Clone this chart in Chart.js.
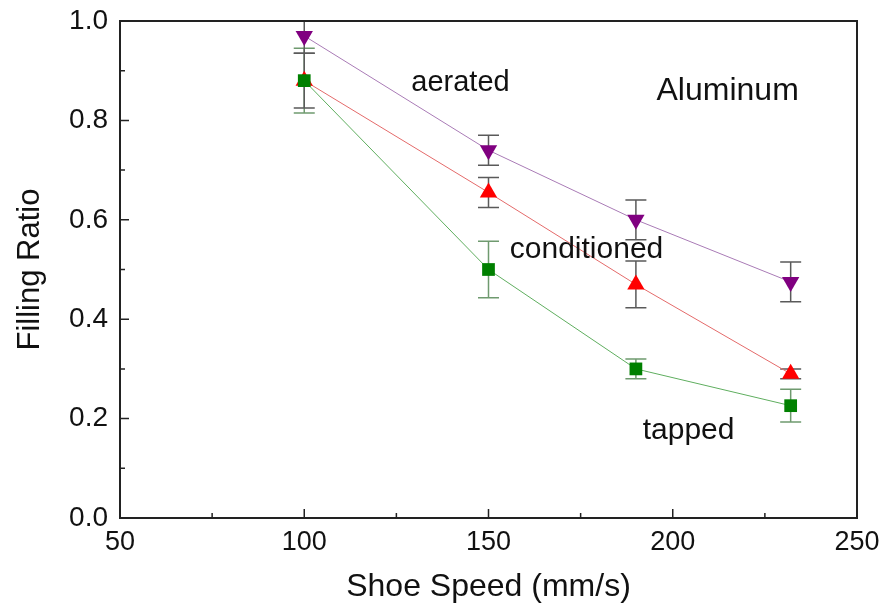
<!DOCTYPE html>
<html>
<head>
<meta charset="utf-8">
<script src="https://cdn.jsdelivr.net/npm/chart.js@4.4.1/dist/chart.umd.min.js"></script>
<style>
  html, body { margin: 0; padding: 0; background: #fff; }
  #wrap { width: 881px; height: 610px; }
</style>
</head>
<body>
<div id="wrap"><canvas id="chart" width="881" height="610"></canvas></div>
<script>
// shoe speed (mm/s)
const speeds = [100, 150, 190, 232];

// filling ratio per powder state, with error bar half-widths
const aerated = [0.97, 0.74, 0.60, 0.475];
const aeratedErr = [0.035, 0.03, 0.04, 0.04];
const conditioned = [0.88, 0.655, 0.47, 0.29];
const conditionedErr = [0.055, 0.03, 0.047, 0.01];
const tapped = [0.88, 0.50, 0.30, 0.226];
const tappedErr = [0.065, 0.057, 0.02, 0.033];

const xTicks = [50, 100, 150, 200, 250];
const yTicks = [0.0, 0.2, 0.4, 0.6, 0.8, 1.0];

// in-plot labels, baseline placed in data units
const notes = [
  { text: 'aerated', x: 142.4, y: 0.860, size: 29 },
  { text: 'Aluminum', x: 214.9, y: 0.842, size: 32 },
  { text: 'conditioned', x: 176.6, y: 0.523, size: 30 },
  { text: 'tapped', x: 204.3, y: 0.158, size: 30 }
];

const FONT = "'Liberation Sans', Arial, sans-serif";

const toPts = ys => speeds.map((x, i) => ({ x: x, y: ys[i] }));

const errorBars = {
  id: 'errorBars',
  beforeDatasetsDraw(chart) {
    const { ctx, chartArea, scales } = chart;
    const xs = scales.x, ys = scales.y;
    ctx.save();
    ctx.beginPath();
    ctx.rect(chartArea.left, chartArea.top, chartArea.right - chartArea.left, chartArea.bottom - chartArea.top);
    ctx.clip();
    ctx.lineWidth = 1.5;
    chart.data.datasets.forEach(ds => {
      ctx.strokeStyle = ds.errorColor;
      ds.data.forEach((p, i) => {
        const e = ds.errors[i];
        const px = xs.getPixelForValue(p.x);
        const top = ys.getPixelForValue(p.y + e);
        const bot = ys.getPixelForValue(p.y - e);
        ctx.beginPath();
        ctx.moveTo(px, top); ctx.lineTo(px, bot);
        ctx.moveTo(px - 10.5, top); ctx.lineTo(px + 10.5, top);
        ctx.moveTo(px - 10.5, bot); ctx.lineTo(px + 10.5, bot);
        ctx.stroke();
      });
    });
    ctx.restore();
  }
};

const frame = {
  id: 'frame',
  afterDraw(chart) {
    const { ctx, chartArea: a, scales } = chart;
    ctx.save();
    ctx.strokeStyle = '#222';
    ctx.lineWidth = 2;
    ctx.strokeRect(a.left, a.top, a.right - a.left, a.bottom - a.top);
    ctx.beginPath();
    // inward ticks, majors and minors
    for (let v = 50; v <= 250; v += 25) {
      const px = scales.x.getPixelForValue(v);
      const len = v % 50 === 0 ? 9 : 5;
      ctx.moveTo(px, a.bottom); ctx.lineTo(px, a.bottom - len);
    }
    for (let k = 0; k <= 10; k++) {
      const py = scales.y.getPixelForValue(k / 10);
      const len = k % 2 === 0 ? 9 : 5;
      ctx.moveTo(a.left, py); ctx.lineTo(a.left + len, py);
    }
    ctx.lineWidth = 1.5;
    ctx.stroke();

    ctx.fillStyle = '#111';
    ctx.textAlign = 'center';
    ctx.textBaseline = 'alphabetic';
    notes.forEach(n => {
      ctx.font = n.size + 'px ' + FONT;
      ctx.fillText(n.text, scales.x.getPixelForValue(n.x), scales.y.getPixelForValue(n.y));
    });
    ctx.restore();
  }
};

new Chart(document.getElementById('chart'), {
  type: 'scatter',
  data: {
    datasets: [
      {
        label: 'tapped', data: toPts(tapped), errors: tappedErr, errorColor: '#6f9a6f',
        showLine: true, borderColor: '#5fae5f', borderWidth: 1,
        pointStyle: 'rect', pointRadius: 9, pointBackgroundColor: '#008000', pointBorderColor: '#008000', pointBorderWidth: 0
      },
      {
        label: 'conditioned', data: toPts(conditioned), errors: conditionedErr, errorColor: '#5a5a5a',
        showLine: true, borderColor: '#e46a6a', borderWidth: 1,
        pointStyle: 'triangle', pointRadius: 10, pointBackgroundColor: '#ff0000', pointBorderColor: '#ff0000', pointBorderWidth: 0
      },
      {
        label: 'aerated', data: toPts(aerated), errors: aeratedErr, errorColor: '#5a5a5a',
        showLine: true, borderColor: '#a97bb6', borderWidth: 1,
        pointStyle: 'triangle', pointRotation: 180, pointRadius: 10, pointBackgroundColor: '#800080', pointBorderColor: '#800080', pointBorderWidth: 0
      }
    ]
  },
  options: {
    responsive: false,
    animation: false,
    layout: { padding: { left: 0, top: 21, right: 24, bottom: 0 } },
    plugins: { legend: { display: false }, tooltip: { enabled: false } },
    scales: {
      x: {
        type: 'linear', min: 50, max: 250,
        afterBuildTicks: s => { s.ticks = xTicks.map(v => ({ value: v })); },
        afterFit: s => { s.height = 92; s.paddingLeft = 0; s.paddingRight = 0; },
        grid: { display: false, drawTicks: false },
        border: { display: false },
        ticks: { color: '#111', font: { family: FONT, size: 27 }, padding: 8, maxRotation: 0 },
        title: { display: true, text: 'Shoe Speed (mm/s)', color: '#111', font: { family: FONT, size: 32 }, padding: { top: 0, bottom: 4 } }
      },
      y: {
        type: 'linear', min: 0, max: 1,
        afterBuildTicks: s => { s.ticks = yTicks.map(v => ({ value: v })); },
        afterFit: s => { s.width = 120; s.paddingTop = 0; s.paddingBottom = 0; },
        grid: { display: false, drawTicks: false },
        border: { display: false },
        ticks: { color: '#111', font: { family: FONT, size: 28 }, padding: 12, callback: v => v.toFixed(1) },
        title: { display: true, text: 'Filling Ratio', color: '#111', font: { family: FONT, size: 31 }, padding: { top: 12, bottom: 0 } }
      }
    }
  },
  plugins: [errorBars, frame]
});
</script>
</body>
</html>
